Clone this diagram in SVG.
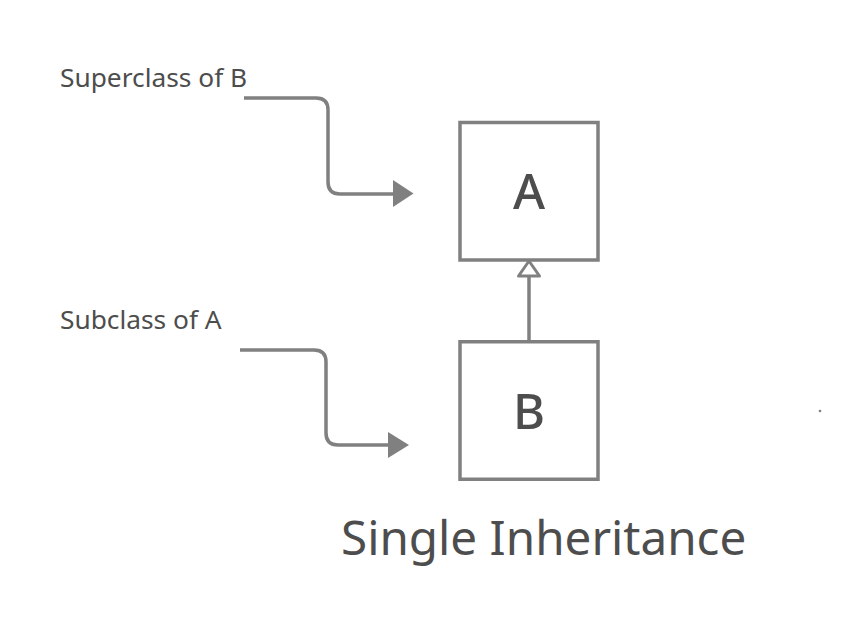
<svg xmlns="http://www.w3.org/2000/svg" width="861" height="626" viewBox="0 0 861 626">
<style>
.box{fill:#fff;stroke:#808080;stroke-width:3.5}
.conn{fill:none;stroke:#808080;stroke-width:3.5;stroke-linejoin:round}
.head{fill:#808080;stroke:none}
.lbl{font-family:"Noto Sans","Open Sans",sans-serif;fill:#4d4d4d}
</style>
<rect width="861" height="626" fill="#fff"/>
<g id="node-A">
<rect class="box" x="460" y="122.5" width="138" height="137.5"/>
<text class="lbl" x="529" y="209" font-size="49" font-weight="500" text-anchor="middle">A</text>
</g>
<g id="node-B">
<rect class="box" x="460" y="341.75" width="138" height="137.5"/>
<text class="lbl" x="529" y="428.5" font-size="49" font-weight="500" text-anchor="middle">B</text>
</g>
<g id="label-super">
<text class="lbl" x="60" y="87" font-size="26.3">Superclass of B</text>
</g>
<g id="label-sub">
<text class="lbl" x="60" y="328.5" font-size="26.3">Subclass of A</text>
</g>
<g id="title">
<text class="lbl" x="341" y="555" font-size="47.6">Single Inheritance</text>
</g>
<g id="connectors">
<path class="conn" d="M244,98 H316 Q328,98 328,110 V182 Q328,194 340,194 H396"/>
<polygon class="head" points="393,180 413.5,193.5 393,207"/>
<path class="conn" d="M240,350 H314 Q326,350 326,362 V433 Q326,445 338,445 H390"/>
<polygon class="head" points="388,432 409,445 388,458"/>
<line class="conn" x1="529" y1="276" x2="529" y2="340"/>
<polygon points="529,261 518.5,276 539.5,276" fill="#fff" stroke="#808080" stroke-width="3" stroke-linejoin="round"/>
</g>
<circle cx="820" cy="411" r="1.3" fill="#808080"/>
</svg>
